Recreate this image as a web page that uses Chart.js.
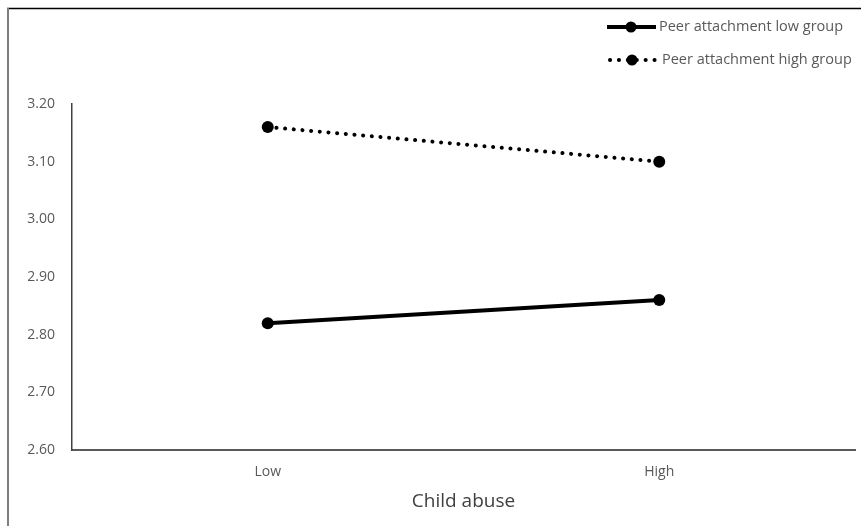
<!DOCTYPE html>
<html>
<head>
<meta charset="utf-8">
<script src="https://cdn.jsdelivr.net/npm/chart.js@4"></script>
<style>
  html, body { margin: 0; padding: 0; background: #fff; }
  #wrap { position: relative; width: 861px; height: 526px; }
</style>
</head>
<body>
<div id="wrap"><canvas id="chart" width="861" height="526"></canvas></div>
<script>
const categories = ['Low', 'High'];
const lowGroup = [2.82, 2.86];   // Peer attachment low group
const highGroup = [3.16, 3.10];  // Peer attachment high group
const seriesNames = ['Peer attachment low group', 'Peer attachment high group'];
const yMin = 2.6, yMax = 3.2, yStep = 0.1;

const FONT = "'Open Sans', 'Noto Sans', sans-serif";

// frame lines + legend with line samples (like the Excel legend)
const framePlugin = {
    id: 'frame',
    beforeDraw(chart) {
        const ctx = chart.ctx;
        ctx.save();
        ctx.fillStyle = '#fff';
        ctx.fillRect(0, 0, chart.width, chart.height);
        ctx.strokeStyle = '#000';
        ctx.lineWidth = 1.5;
        ctx.beginPath();
        ctx.moveTo(7, 8.5);
        ctx.lineTo(chart.width, 8.5);
        ctx.stroke();
        ctx.strokeStyle = '#7f7f7f';
        ctx.lineWidth = 2;
        ctx.beginPath();
        ctx.moveTo(8, 8);
        ctx.lineTo(8, chart.height);
        ctx.stroke();
        ctx.restore();
    },
    afterDraw(chart) {
        const ctx = chart.ctx;
        const items = [
            { y: 27, from: 607, dot: 631, text: 659 },
            { y: 60, from: 610, dot: 632, text: 662 }
        ];
        ctx.save();
        chart.data.datasets.forEach((ds, i) => {
            const it = items[i];
            ctx.strokeStyle = '#000';
            ctx.lineWidth = ds.borderWidth;
            ctx.lineCap = ds.borderCapStyle || 'butt';
            ctx.setLineDash(ds.borderDash ? [0.1, 8.8] : []);
            ctx.beginPath();
            ctx.moveTo(it.from, it.y);
            ctx.lineTo(656, it.y);
            ctx.stroke();
            ctx.setLineDash([]);
            ctx.fillStyle = '#000';
            ctx.beginPath();
            ctx.arc(it.dot, it.y, 5.5, 0, Math.PI * 2);
            ctx.fill();
            ctx.font = '14.5px ' + FONT;
            ctx.fillStyle = '#595959';
            ctx.textBaseline = 'middle';
            ctx.fillText(ds.label, it.text, it.y);
        });
        ctx.restore();
    }
};

const ctx = document.getElementById('chart').getContext('2d');
const chart = new Chart(ctx, {
    type: 'line',
    data: {
        labels: categories,
        datasets: [{
            label: seriesNames[0],
            data: lowGroup,
            borderColor: '#000',
            backgroundColor: '#000',
            borderWidth: 4,
            pointRadius: 6,
            pointBackgroundColor: '#000',
            pointBorderWidth: 0
        }, {
            label: seriesNames[1],
            data: highGroup,
            borderColor: '#000',
            backgroundColor: '#000',
            borderWidth: 4,
            borderDash: [0.1, 8.6],
            borderCapStyle: 'round',
            pointRadius: 6,
            pointBackgroundColor: '#000',
            pointBorderWidth: 0
        }]
    },
    options: {
        responsive: false,
        animation: false,
        devicePixelRatio: 1,
        layout: { padding: { top: 104, right: 2, left: 0, bottom: 0 } },
        plugins: {
            legend: { display: false },
            tooltip: { enabled: false }
        },
        scales: {
            x: {
                offset: true,
                grid: { display: false },
                border: { display: true, color: '#595959', width: 2 },
                ticks: { color: '#595959', font: { family: FONT, size: 14 }, padding: 6 },
                title: {
                    display: true,
                    text: 'Child abuse',
                    color: '#404040',
                    font: { family: FONT, size: 19 },
                    padding: { top: 0, bottom: 13 }
                },
                afterFit(scale) { scale.height = 76; }
            },
            y: {
                min: yMin,
                max: yMax,
                grid: { display: false },
                border: { display: true, color: '#404040', width: 1.5 },
                ticks: {
                    stepSize: yStep,
                    color: '#595959',
                    font: { family: FONT, size: 14 },
                    padding: 9,
                    callback: v => v.toFixed(2)
                },
                afterFit(scale) { scale.width = 72; }
            }
        }
    },
    plugins: [framePlugin]
});
</script>
</body>
</html>
